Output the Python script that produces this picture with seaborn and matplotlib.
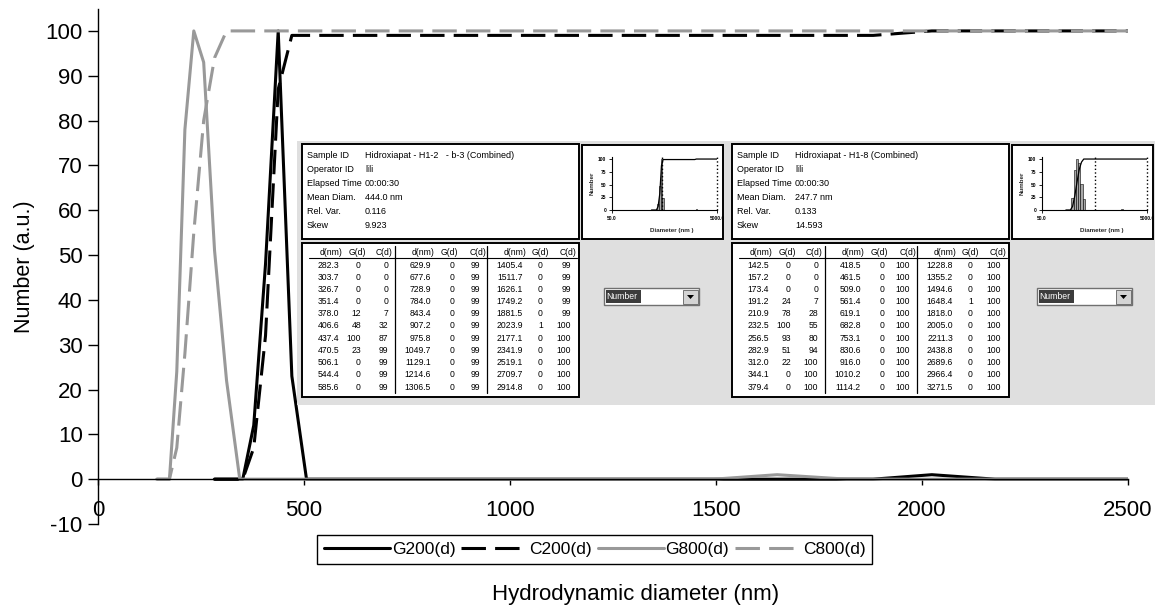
import pandas as pd
import matplotlib
matplotlib.use('Agg')
import matplotlib.pyplot as plt
from matplotlib.patches import Rectangle, Polygon
from matplotlib.lines import Line2D
import seaborn as sns

# size distributions (H1-2 = 200, H1-8 = 800)
d200 = [282.3, 303.7, 326.7, 351.4, 378.0, 406.6, 437.4, 470.5, 506.1, 544.4, 585.6,
        629.9, 677.6, 728.9, 784.0, 843.4, 907.2, 975.8, 1049.7, 1129.1, 1214.6, 1306.5,
        1405.4, 1511.7, 1626.1, 1749.2, 1881.5, 2023.9, 2177.1, 2341.9, 2519.1, 2709.7, 2914.8]
g200 = [0, 0, 0, 0, 12, 48, 100, 23, 0, 0, 0,
        0, 0, 0, 0, 0, 0, 0, 0, 0, 0, 0,
        0, 0, 0, 0, 0, 1, 0, 0, 0, 0, 0]
c200 = [0, 0, 0, 0, 7, 32, 87, 99, 99, 99, 99,
        99, 99, 99, 99, 99, 99, 99, 99, 99, 99, 99,
        99, 99, 99, 99, 99, 100, 100, 100, 100, 100, 100]

d800 = [142.5, 157.2, 173.4, 191.2, 210.9, 232.5, 256.5, 282.9, 312.0, 344.1, 379.4,
        418.5, 461.5, 509.0, 561.4, 619.1, 682.8, 753.1, 830.6, 916.0, 1010.2, 1114.2,
        1228.8, 1355.2, 1494.6, 1648.4, 1818.0, 2005.0, 2211.3, 2438.8, 2689.6, 2966.4, 3271.5]
g800 = [0, 0, 0, 24, 78, 100, 93, 51, 22, 0, 0,
        0, 0, 0, 0, 0, 0, 0, 0, 0, 0, 0,
        0, 0, 0, 1, 0, 0, 0, 0, 0, 0, 0]
c800 = [0, 0, 0, 7, 28, 55, 80, 94, 100, 100, 100,
        100, 100, 100, 100, 100, 100, 100, 100, 100, 100, 100,
        100, 100, 100, 100, 100, 100, 100, 100, 100, 100, 100]

series_names = ['G200(d)', 'C200(d)', 'G800(d)', 'C800(d)']
x_ticks = [0, 500, 1000, 1500, 2000, 2500]
y_ticks = [-10, 0, 10, 20, 30, 40, 50, 60, 70, 80, 90, 100]

info_labels = ['Sample ID', 'Operator ID', 'Elapsed Time', 'Mean Diam.', 'Rel. Var.', 'Skew']
info_200 = ['Hidroxiapat - H1-2   - b-3 (Combined)', 'lili', '00:00:30', '444.0 nm', '0.116', '9.923']
info_800 = ['Hidroxiapat - H1-8 (Combined)', 'lili', '00:00:30', '247.7 nm', '0.133', '14.593']
table_head = ['d(nm)', 'G(d)', 'C(d)'] * 3

mini_ticks = [0, 25, 50, 75, 100]
mini_cursor = [448.0, 510.0]
mini_end_d = 5000.0
mini_end_c = 100

sns.set_style('ticks')
plt.rcParams['font.family'] = ['Liberation Sans', 'DejaVu Sans']
plt.rcParams['text.color'] = 'black'
plt.rcParams['axes.unicode_minus'] = False

W, H = 1155, 607
fig = plt.figure(figsize=(W / 100, H / 100), dpi=100)


def fx(px):
    return px / W


def fy(py):
    return 1 - py / H


# main chart
ax = fig.add_axes([fx(98), fy(524), fx(1128) - fx(98), fy(8.5) - fy(524)])
df = pd.concat([
    pd.DataFrame({'d': d200, 'value': g200, 'series': 'G200(d)'}),
    pd.DataFrame({'d': d200, 'value': c200, 'series': 'C200(d)'}),
    pd.DataFrame({'d': d800, 'value': g800, 'series': 'G800(d)'}),
    pd.DataFrame({'d': d800, 'value': c800, 'series': 'C800(d)'}),
])
palette = {'G200(d)': 'black', 'C200(d)': 'black', 'G800(d)': '#999999', 'C800(d)': '#999999'}
dashes = {'G200(d)': '', 'C200(d)': (8, 3), 'G800(d)': '', 'C800(d)': (8, 3)}
sns.lineplot(data=df, x='d', y='value', hue='series', style='series',
             hue_order=series_names, style_order=series_names,
             palette=palette, dashes=dashes, linewidth=2.2,
             estimator=None, legend=False, ax=ax)

ax.set_xlim(0, 2500)
ax.set_ylim(-10, 105)
ax.set_xticks(x_ticks)
ax.set_yticks(y_ticks)
ax.spines['bottom'].set_position(('data', 0))
ax.spines[['top', 'right']].set_visible(False)
for s in ['left', 'bottom']:
    ax.spines[s].set_color('black')
    ax.spines[s].set_linewidth(1)
ax.tick_params(axis='x', direction='out', length=4, width=1, pad=11,
               labelsize=16, colors='black')
ax.tick_params(axis='y', direction='out', length=7, width=1, pad=4,
               labelsize=16, colors='black')
ax.set_xlabel('Hydrodynamic diameter (nm)', fontsize=16, color='black')
ax.xaxis.set_label_coords(0.522, -0.1377)
ax.xaxis.label.set_va('center')
ax.set_ylabel('Number (a.u.)', fontsize=15.5, color='black')
ax.yaxis.set_label_coords(-0.0718, 0.5)
ax.yaxis.label.set_va('center')

handles = [Line2D([], [], color=palette[n], lw=2.2,
                  ls='-' if dashes[n] == '' else (0, dashes[n])) for n in series_names]
leg = ax.legend(handles, series_names, loc='center', bbox_to_anchor=(0.4823, -0.0495),
                ncol=4, frameon=True, fancybox=False, edgecolor='black', framealpha=1,
                fontsize=12.5, handlelength=3.8, handletextpad=0.1,
                columnspacing=0.35, borderpad=0.4)
leg.get_frame().set_linewidth(1)

# pasted instrument screenshots, drawn in pixel coordinates
ov = fig.add_axes([0, 0, 1, 1], zorder=5)
ov.set_xlim(0, W)
ov.set_ylim(H, 0)
ov.axis('off')
ov.patch.set_alpha(0)
ov.add_patch(Rectangle((297, 141), W - 297, 405 - 141, fc='#dfdfdf', ec='none'))

data_right = [37, 59, 86, 129, 152, 178, 221, 241, 269]
head_right = [41, 64, 91, 132, 156, 184, 224, 247, 274]


def panel(x0, info_vals, d, g, c, cursor, drop_x):
    # info box
    ov.add_patch(Rectangle((x0, 144), 277, 95, fc='white', ec='black', lw=1.4))
    for i, (lab, val) in enumerate(zip(info_labels, info_vals)):
        y = 155 + i * 14.2
        ov.text(x0 + 5, y, lab, fontsize=6.5, va='center')
        ov.text(x0 + 63, y, val, fontsize=6.5, va='center')

    # table box
    ov.add_patch(Rectangle((x0, 243), 277, 154, fc='white', ec='black', lw=1.4))
    for j, h in enumerate(table_head):
        ov.text(x0 + head_right[j], 252.7, h, fontsize=6.2, ha='right', va='center')
    ov.plot([x0 + 7, x0 + 275], [258, 258], color='black', lw=0.8)
    for sx in [93, 185]:
        ov.plot([x0 + sx, x0 + sx], [246, 393], color='black', lw=0.9)
    for b in range(3):
        for i in range(11):
            k = b * 11 + i
            y = 265 + i * 12.2
            vals = ['%.1f' % d[k], '%d' % g[k], '%d' % c[k]]
            for j, v in enumerate(vals):
                ov.text(x0 + data_right[b * 3 + j], y, v, fontsize=6.2,
                        ha='right', va='center')

    # small distribution plot
    mx = x0 + 280
    ov.add_patch(Rectangle((mx, 145), 141, 94, fc='white', ec='black', lw=1.4))
    mini = fig.add_axes([fx(mx + 30), fy(210), fx(105), fy(157) - fy(210)], zorder=6)
    r = (d[1] / d[0]) ** 0.5
    keep = [k for k in range(len(d)) if g[k] > 0]
    lefts = [d[k] / r for k in keep]
    widths = [d[k] * r - d[k] / r for k in keep]
    mini.bar(lefts, [g[k] for k in keep], width=widths, align='edge',
             color='#a8a8a8', edgecolor='black', linewidth=0.4)
    mini.plot(list(d) + [mini_end_d], list(c) + [mini_end_c], color='black', lw=0.9)
    mini.axvline(cursor, color='black', ls=':', lw=1)
    mini.axvline(mini_end_d, color='black', ls=':', lw=1, clip_on=False)
    mini.set_xscale('log')
    mini.set_xlim(50, mini_end_d)
    mini.set_ylim(0, 104)
    mini.set_xticks([50, mini_end_d])
    mini.set_xticklabels(['50.0', '5000.0'])
    mini.minorticks_off()
    mini.set_yticks(mini_ticks)
    mini.tick_params(labelsize=3.5, length=2, width=0.6, pad=2, colors='black')
    for t in mini.get_xticklabels() + mini.get_yticklabels():
        t.set_fontweight('bold')
    mini.spines[['top', 'right']].set_visible(False)
    for s in ['left', 'bottom']:
        mini.spines[s].set_color('black')
        mini.spines[s].set_linewidth(0.8)
    mini.set_facecolor('white')
    mini.set_ylabel('Number', fontsize=4.5, fontweight='bold')
    mini.yaxis.set_label_coords(-0.165, 0.5)
    mini.set_xlabel('Diameter (nm )', fontsize=4.5, fontweight='bold')
    mini.xaxis.set_label_coords(0.571, -0.39)
    mini.xaxis.label.set_va('center')

    # dropdown box
    ov.add_patch(Rectangle((drop_x, 288), 95, 17, fc='white', ec='#707070', lw=1))
    ov.add_patch(Rectangle((drop_x + 1.5, 290), 35, 13, fc='#3c3c3c', ec='none'))
    ov.text(drop_x + 2.5, 296.5, 'Number', color='white', fontsize=6.2, va='center')
    ov.add_patch(Rectangle((drop_x + 79, 289.5), 15, 14, fc='#d4d4d4', ec='#606060', lw=0.6))
    ov.add_patch(Polygon([(drop_x + 83, 295), (drop_x + 90, 295), (drop_x + 86.5, 299)],
                         closed=True, fc='black', ec='none'))


panel(302, info_200, d200, g200, c200, mini_cursor[0], 604)
panel(732, info_800, d800, g800, c800, mini_cursor[1], 1037)

fig.savefig('out.png', dpi=100)
